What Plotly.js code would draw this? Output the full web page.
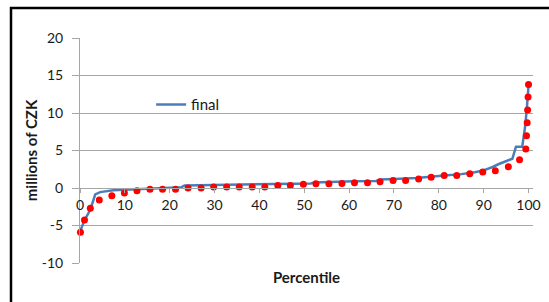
<!DOCTYPE html>
<html>
<head>
<meta charset="utf-8">
<script src="https://cdn.plot.ly/plotly-3.0.1.min.js"></script>
<style>
  html, body { margin: 0; padding: 0; background: #fff; }
  #chart { width: 549px; height: 302px; }
</style>
</head>
<body>
<div id="chart"></div>
<script>
// Blue line "final": percentile vs. value (millions of CZK)
const linePct = [0, 1, 2.3, 3.4, 4.5, 7.4, 12.6, 18, 22.6, 23.3, 30.5, 31.2, 51.5, 52.2, 60, 61, 66, 67, 70, 75, 80, 85, 88, 90, 92, 93.4, 96.4, 97.2, 98.6, 99.2, 99.6, 100];
const lineVal = [-5.8, -4.3, -2.9, -0.85, -0.55, -0.3, -0.17, -0.05, 0.1, 0.35, 0.4, 0.5, 0.6, 0.75, 0.8, 0.9, 0.95, 1.12, 1.2, 1.35, 1.6, 1.85, 2.1, 2.35, 2.8, 3.2, 3.9, 5.5, 5.5, 8.0, 10.4, 13.6];

// Red dots
const dotPct = [0.1, 1, 2.3, 4.3, 7.1, 9.9, 12.7, 15.6, 18.4, 21.3, 24.1, 27, 29.8, 32.7, 35.5, 38.4, 41.2, 44.1, 46.9, 49.8, 52.6, 55.5, 58.4, 61.2, 64.1, 66.9, 69.8, 72.6, 75.5, 78.3, 81.2, 84, 86.9, 89.8, 92.6, 95.5, 98, 99.4, 99.55, 99.7, 99.8, 99.9, 100];
const dotVal = [-5.9, -4.26, -2.7, -1.6, -1.02, -0.66, -0.35, -0.18, -0.18, -0.15, 0.0, 0.0, 0.13, 0.13, 0.13, 0.13, 0.13, 0.35, 0.35, 0.5, 0.58, 0.58, 0.6, 0.7, 0.7, 0.84, 1.0, 1.0, 1.2, 1.42, 1.68, 1.68, 1.9, 2.13, 2.3, 2.84, 3.77, 5.2, 6.96, 8.7, 10.4, 12.15, 13.8];

const xTicks = [0, 10, 20, 30, 40, 50, 60, 70, 80, 90, 100];
const yTicks = [-10, -5, 0, 5, 10, 15, 20];

const FONT = 'Lato, "Open Sans", sans-serif';
const GRID = '#a6a6a6';

const traces = [
  {
    x: linePct, y: lineVal, type: 'scatter', mode: 'lines', name: 'final',
    line: { color: '#4a7ebb', width: 2.5 }
  },
  {
    x: dotPct, y: dotVal, type: 'scatter', mode: 'markers', name: 'dots',
    showlegend: false, cliponaxis: false,
    marker: { color: '#ff0000', size: 7 }
  }
];

const layout = {
  width: 549, height: 302,
  margin: { l: 80, r: 16, t: 38, b: 39 },
  paper_bgcolor: '#ffffff', plot_bgcolor: '#ffffff',
  font: { family: FONT, size: 14, color: '#1a1a1a' },
  showlegend: true,
  legend: {
    x: 0.157, y: 0.703, xanchor: 'left', yanchor: 'middle',
    bgcolor: 'rgba(0,0,0,0)', borderwidth: 0,
    font: { family: FONT, size: 15, color: '#1a1a1a' }
  },
  xaxis: {
    range: [0, 101], anchor: 'free', position: 1 / 3,
    tickmode: 'array', tickvals: xTicks, ticktext: xTicks.map(String),
    showgrid: false, zeroline: false,
    showline: true, linecolor: GRID, linewidth: 1,
    ticks: 'outside', ticklen: 4, tickcolor: GRID, tickwidth: 1,
    tickfont: { family: FONT, size: 14, color: '#1a1a1a' },
    title: { text: 'Percentile', standoff: 60, font: { family: FONT, size: 15, color: '#1a1a1a', weight: 'bold' } }
  },
  yaxis: {
    range: [-10, 20],
    tickmode: 'array', tickvals: yTicks, ticktext: yTicks.map(String),
    showgrid: true, gridcolor: GRID, gridwidth: 1,
    zeroline: false,
    showline: true, linecolor: GRID, linewidth: 1,
    ticks: 'outside', ticklen: 7, tickcolor: GRID, tickwidth: 1,
    ticklabelstandoff: 6,
    tickfont: { family: FONT, size: 14, color: '#1a1a1a' },
    title: { text: 'millions of CZK', standoff: 0, font: { family: FONT, size: 15, color: '#1a1a1a', weight: 'bold' } }
  },
  shapes: [
    {
      type: 'rect', xref: 'paper', yref: 'paper',
      x0: (11 - 80) / 453, x1: (570 - 80) / 453,
      y0: (263 - 330) / 225, y1: (263 - 8) / 225,
      line: { color: '#000000', width: 2.5 }, fillcolor: 'rgba(0,0,0,0)', layer: 'above'
    }
  ]
};

Plotly.newPlot('chart', traces, layout, { displayModeBar: false, staticPlot: true });
</script>
</body>
</html>
